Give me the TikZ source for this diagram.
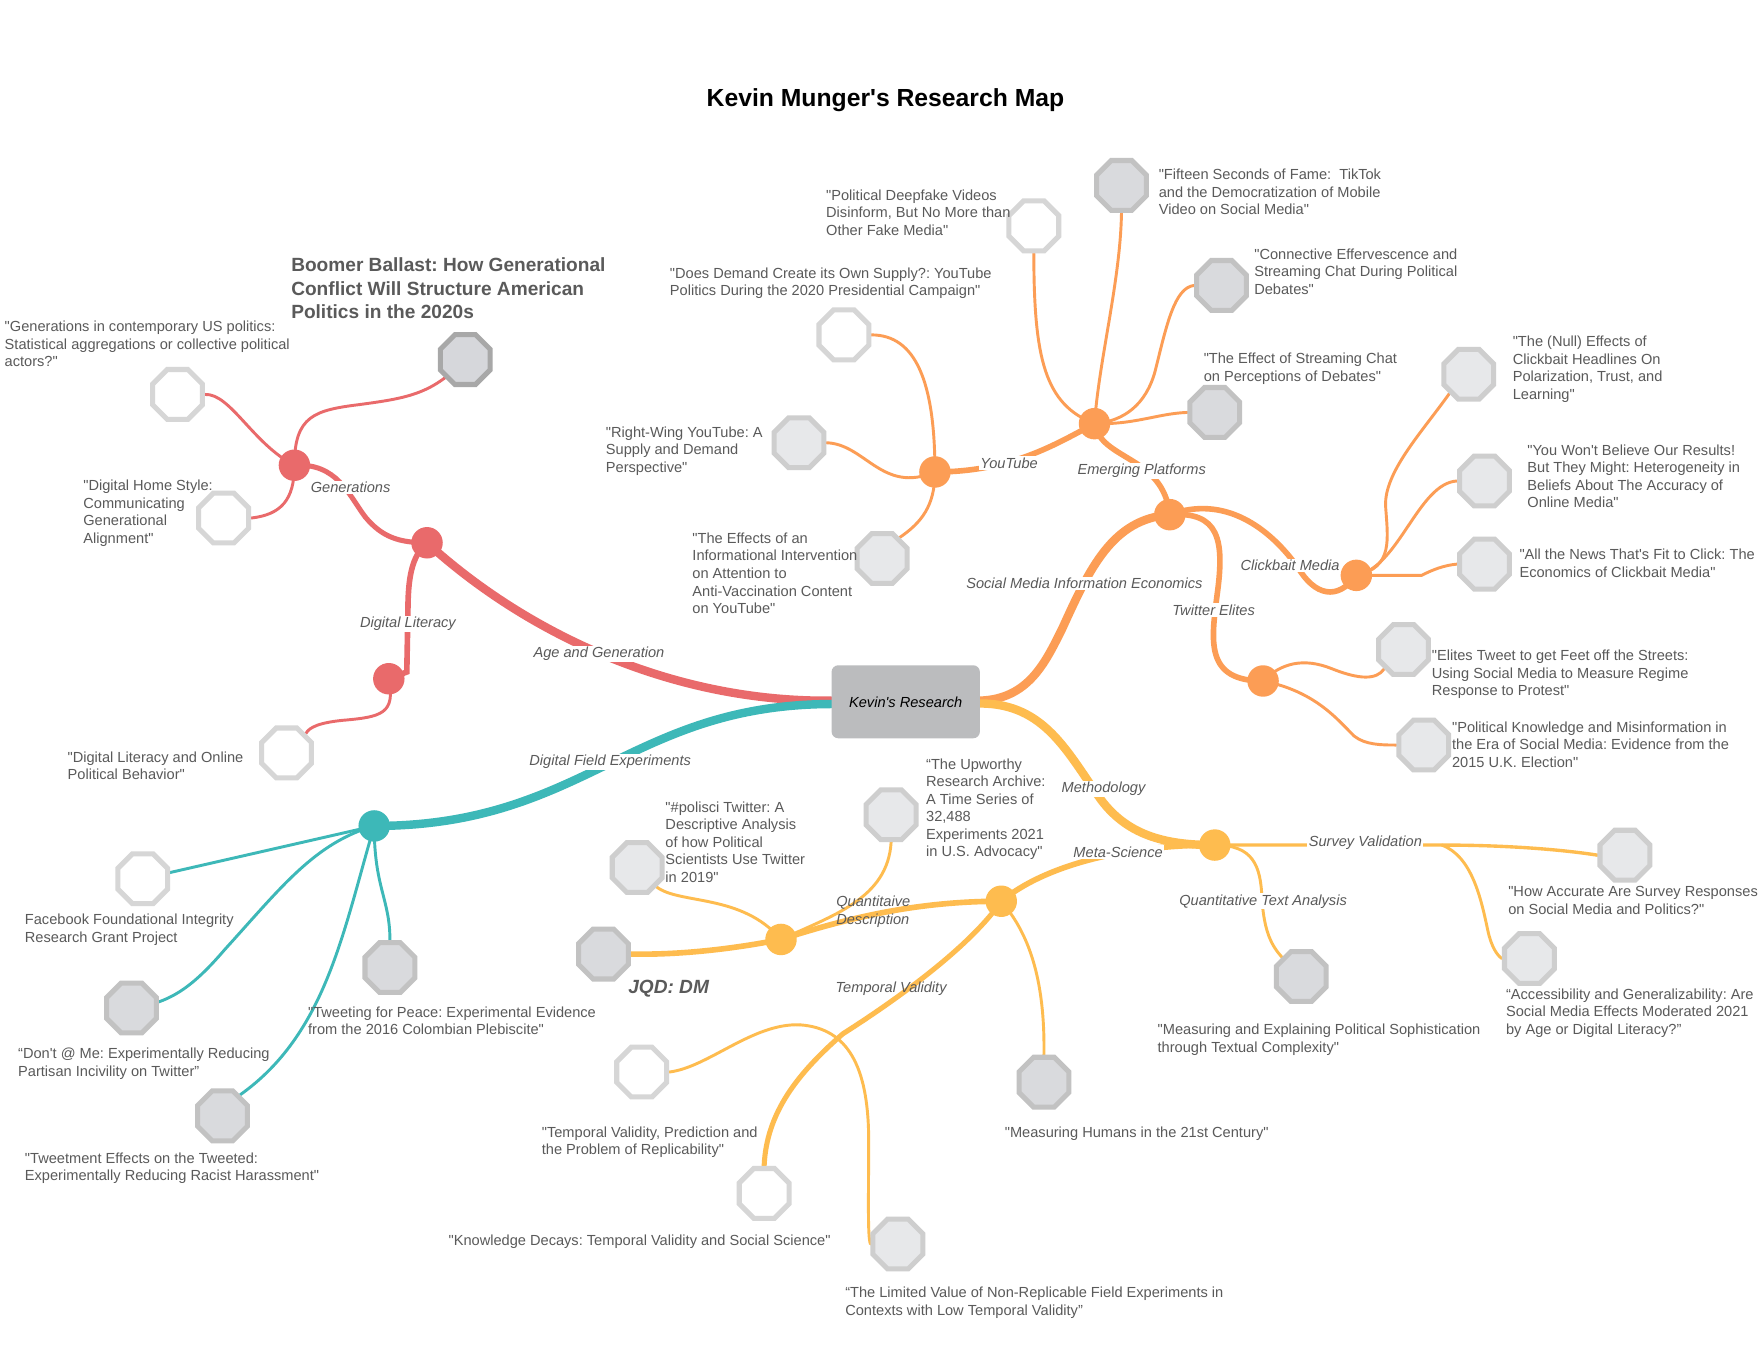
\documentclass[tikz,border=0pt]{standalone}
\usepackage{fontspec}
\setmainfont{Liberation Sans}[Ligatures=TeXOff]
\usetikzlibrary{shapes.geometric}
\pgfdeclarelayer{canvas}
\pgfdeclarelayer{links}
\pgfsetlayers{canvas,links,main}
\definecolor{cred}{HTML}{E96A6B}
\definecolor{cteal}{HTML}{3DB8B8}
\definecolor{corange}{HTML}{FC9D55}
\definecolor{cyellow}{HTML}{FEBC4F}
\definecolor{cgraybox}{HTML}{BBBCBE}
\definecolor{ctext}{HTML}{5A5A5A}
\definecolor{owline}{HTML}{D6D6D6}
\definecolor{olfill}{HTML}{E7E8EA}
\definecolor{olline}{HTML}{CECECE}
\definecolor{omfill}{HTML}{D9DADD}
\definecolor{omline}{HTML}{C2C2C2}
\definecolor{odfill}{HTML}{D6D7DB}
\definecolor{odline}{HTML}{A8A8A8}
\tikzset{
  octbase/.style={regular polygon, regular polygon sides=8, minimum size=48pt, inner sep=0pt, line width=4.5pt},
  octw/.style={octbase, fill=white, draw=owline},
  octl/.style={octbase, fill=olfill, draw=olline},
  octm/.style={octbase, fill=omfill, draw=omline},
  octd/.style={octbase, fill=odfill, draw=odline},
  hub/.style={circle, inner sep=0pt, minimum size=28pt, fill=#1},
  ptext/.style={anchor=north west, inner sep=0pt, align=left, text=ctext, font=\fontsize{13}{15.6}\selectfont},
  blabel/.style={font=\fontsize{13}{15.6}\selectfont\itshape, text=ctext, fill=white, inner sep=1.2pt},
  blabelnf/.style={font=\fontsize{13}{15.6}\selectfont\itshape, text=ctext, inner sep=0pt},
  wmain/.style={line width=7.5pt, line cap=round},
  wsub/.style={line width=5pt, line cap=round},
  wmid/.style={line width=3pt, line cap=round},
  wleaf/.style={line width=2.6pt, line cap=round}
}
\frenchspacing
\begin{document}
\frenchspacing
\begin{tikzpicture}[x=1pt,y=-1pt]
\begin{pgfonlayer}{canvas}
\fill[white] (0,0) rectangle (1568,1211);
\end{pgfonlayer}
\useasboundingbox (0,0) rectangle (1568,1211);

% title and centre
\node[font=\fontsize{22}{26}\selectfont\bfseries] (title) at (788,89) {Kevin Munger's Research Map};
\node[fill=cgraybox, rounded corners=6pt, minimum width=132pt, minimum height=65pt, inner sep=0pt, font=\fontsize{13}{15.6}\selectfont\itshape] (ctr) at (806,624.5) {Kevin's Research};

% hubs
\node[hub=cred] (RA) at (380,483) {};
\node[hub=cred] (RG) at (262,414) {};
\node[hub=cred] (RD) at (346,604) {};
\node[hub=cteal] (T) at (333,735) {};
\node[hub=corange] (O) at (1041,458) {};
\node[hub=corange] (E) at (974,377) {};
\node[hub=corange] (YT) at (832,420) {};
\node[hub=corange] (C) at (1207,512) {};
\node[hub=corange] (TE) at (1124,606) {};
\node[hub=cyellow] (M) at (1081,752) {};
\node[hub=cyellow] (MS) at (891,802) {};
\node[hub=cyellow] (QD) at (695,836) {};

% octagons
\node[octd] (BB) at (414,320) {};
\node[octw] (GS) at (158,351) {};
\node[octw] (HS) at (199,461) {};
\node[octw] (DL) at (255,670) {};
\node[octw] (FB) at (127,782) {};
\node[octm] (DA) at (117,897) {};
\node[octm] (TW) at (198,993) {};
\node[octm] (PE) at (347,861) {};
\node[octw] (DF) at (920,201) {};
\node[octm] (FS) at (998,165) {};
\node[octm] (CE) at (1087,254) {};
\node[octm] (ES) at (1081,367) {};
\node[octw] (DD) at (751,298) {};
\node[octl] (RW) at (711,394) {};
\node[octl] (EI) at (785,497) {};
\node[octl] (NE) at (1307,333) {};
\node[octl] (YW) at (1321,428) {};
\node[octl] (AN) at (1321,502) {};
\node[octl] (EL) at (1249,578) {};
\node[octl] (PK) at (1267,663) {};
\node[octl] (HA) at (1446,761) {};
\node[octl] (AC) at (1361,853) {};
\node[octm] (SO) at (1158,869) {};
\node[octl] (UP) at (793,725) {};
\node[octl] (PO) at (567,772) {};
\node[octm] (JQ) at (537,849) {};
\node[octm] (MH) at (929,963) {};
\node[octw] (TV) at (571,954) {};
\node[octw] (KD) at (680,1062) {};
\node[octl] (LV) at (799,1107) {};

\coordinate (SVJ) at (1283,752);
\coordinate (TVJ) at (712,912);

% branch labels
\node[blabel] (lAG) at (533,582) {Age and Generation};
\node[blabel] (lGen) at (312,434) {Generations};
\node[blabel] (lDLit) at (363,555) {Digital Literacy};
\node[blabel] (lDFE) at (543,678) {Digital Field Experiments};
\node[blabel] (lSMIE) at (965,519) {Social Media Information Economics};
\node[blabel] (lYT) at (898,412) {YouTube};
\node[blabel] (lEP) at (1016,419) {Emerging Platforms};
\node[blabel] (lCB) at (1148,503) {Clickbait Media};
\node[blabel] (lTE) at (1080,543) {Twitter Elites};
\node[blabel] (lMeth) at (982,702) {Methodology};
\node[blabel] (lMS) at (995,758) {Meta-Science};
\node[blabel] (lSV) at (1215,750) {Survey Validation};
\node[blabel] (lQTA) at (1124,802) {Quantitative Text Analysis};
\node[blabelnf, anchor=north west, align=left] (lQD) at (744,797.3) {Quantitaive\\Description};
\node[blabelnf] (lTV) at (793,880) {Temporal Validity};

% paper texts
\node[anchor=north west, inner sep=0pt, align=left, text=ctext, font=\fontsize{17}{20.5}\selectfont\bfseries] (tBB) at (259,229.5) {Boomer Ballast: How Generational\\Conflict Will Structure American\\Politics in the 2020s};
\node[ptext] (tGS) at (4,285.5) {"Generations in contemporary US politics:\\Statistical aggregations or collective political\\actors?"};
\node[ptext] (tHS) at (74,427) {"Digital Home Style:\\Communicating\\Generational\\Alignment"};
\node[ptext] (tDL) at (60,668.5) {"Digital Literacy and Online\\Political Behavior"};
\node[ptext] (tFB) at (22,813.5) {Facebook Foundational Integrity\\Research Grant Project};
\node[ptext] (tDA) at (16,932.5) {“Don't @ Me: Experimentally Reducing\\Partisan Incivility on Twitter”};
\node[ptext] (tTW) at (22,1025.5) {"Tweetment Effects on the Tweeted:\\Experimentally Reducing Racist Harassment"};
\node[ptext] (tPE) at (274,895.5) {"Tweeting for Peace: Experimental Evidence\\from the 2016 Colombian Plebiscite"};
\node[ptext] (tDF) at (735,168.5) {"Political Deepfake Videos\\Disinform, But No More than\\Other Fake Media"};
\node[ptext] (tFS) at (1031,150.5) {"Fifteen Seconds of Fame:~ TikTok\\and the Democratization of Mobile\\Video on Social Media"};
\node[ptext] (tCE) at (1116,221) {"Connective Effervescence and\\Streaming Chat During Political\\Debates"};
\node[ptext] (tES) at (1071,314) {"The Effect of Streaming Chat\\on Perceptions of Debates"};
\node[ptext] (tDD) at (596,238) {"Does Demand Create its Own Supply?: YouTube\\Politics During the 2020 Presidential Campaign"};
\node[ptext] (tRW) at (539,379.3) {"Right-Wing YouTube: A\\Supply and Demand\\Perspective"};
\node[ptext] (tEI) at (616,474) {"The Effects of an\\Informational Intervention\\on Attention to\\Anti-Vaccination Content\\on YouTube"};
\node[ptext] (tNE) at (1346,299) {"The (Null) Effects of\\Clickbait Headlines On\\Polarization, Trust, and\\Learning"};
\node[ptext] (tYW) at (1359,395.5) {"You Won't Believe Our Results!\\But They Might: Heterogeneity in\\Beliefs About The Accuracy of\\Online Media"};
\node[ptext] (tAN) at (1352,488.5) {"All the News That's Fit to Click: The\\Economics of Clickbait Media"};
\node[ptext] (tEL) at (1274,578.5) {"Elites Tweet to get Feet off the Streets:\\Using Social Media to Measure Regime\\Response to Protest"};
\node[ptext] (tPK) at (1292,642) {"Political Knowledge and Misinformation in\\the Era of Social Media: Evidence from the\\2015 U.K. Election"};
\node[ptext] (tHA) at (1342,788.5) {"How Accurate Are Survey Responses\\on Social Media and Politics?"};
\node[ptext] (tAC) at (1340,879.5) {“Accessibility and Generalizability: Are\\Social Media Effects Moderated 2021\\by Age or Digital Literacy?”};
\node[ptext] (tSO) at (1030,911) {"Measuring and Explaining Political Sophistication\\through Textual Complexity"};
\node[ptext] (tUP) at (824,674.7) {“The Upworthy\\Research Archive:\\A Time Series of\\32,488\\Experiments 2021\\in U.S. Advocacy"};
\node[ptext] (tPO) at (592,713) {"\#polisci Twitter: A\\Descriptive Analysis\\of how Political\\Scientists Use Twitter\\in 2019"};
\node[ptext] (tMH) at (894,1002.5) {"Measuring Humans in the 21st Century"};
\node[ptext] (tTV) at (482,1002.5) {"Temporal Validity, Prediction and\\the Problem of Replicability"};
\node[ptext] (tKD) at (399,1098.5) {"Knowledge Decays: Temporal Validity and Social Science"};
\node[ptext] (tLV) at (752,1145) {“The Limited Value of Non-Replicable Field Experiments in\\Contexts with Low Temporal Validity”};
\node[font=\fontsize{17}{20}\selectfont\bfseries\itshape, text=ctext, inner sep=0pt] (tJQ) at (595,880) {JQD: DM};

% connectors
\begin{pgfonlayer}{links}
% main branches
\draw[cred, wmain] ([yshift=1pt]ctr.west) .. controls (600,625) and (470,565) .. (RA.center);
\draw[cteal, wmain] ([yshift=-2pt]ctr.west) .. controls (560,627) and (520,735) .. (T.center);
\draw[corange, wmain] ([yshift=1pt]ctr.east) .. controls (915,622) and (930,590) .. (945,560) .. controls (970,505) and (990,462) .. (O.center);
\draw[cyellow, wmain] ([yshift=-1.5pt]ctr.east) .. controls (930,626) and (950,670) .. (980,712) .. controls (1005,745) and (1040,752) .. (M.center);
% red
\draw[cred, line width=4.5pt, line cap=round] (RG.center) .. controls (300,412) and (310,440) .. (325,460) .. controls (340,478) and (355,483) .. (RA.center);
\draw[cred, wsub] (RA.center) .. controls (366,495) and (363,515) .. (363,545) -- (362,598) -- (RD.center);
\draw[cred, wleaf] (RG.center) .. controls (262,370) and (280,365) .. (320,360) .. controls (365,354) and (385,350) .. (BB.center);
\draw[cred, wleaf] (GS.east) .. controls (205,350) and (225,395) .. (RG.center);
\draw[cred, wleaf] (RG.center) .. controls (262,445) and (250,458) .. (HS.east);
\draw[cred, wleaf] (RD.center) .. controls (352,635) and (340,638) .. (305,641) .. controls (285,643) and (275,647) .. (DL.45);
% teal
\draw[cteal, wleaf] (T.center) -- (FB.center);
\draw[cteal, wleaf] (T.center) .. controls (280,750) and (250,790) .. (200,845) .. controls (170,880) and (150,893) .. (DA.center);
\draw[cteal, wleaf] (T.center) .. controls (305,830) and (290,920) .. (TW.50);
\draw[cteal, wleaf] (T.center) .. controls (333,790) and (347,800) .. (PE.north);
% orange
\draw[corange, wsub] (E.center) .. controls (980,410) and (1035,405) .. (O.center);
\draw[corange, wsub] (E.center) .. controls (940,395) and (900,420) .. (YT.center);
\draw[corange, wleaf] (DF.south) .. controls (920,320) and (930,360) .. (E.center);
\draw[corange, wleaf] (FS.south) .. controls (997,250) and (978,320) .. (E.center);
\draw[corange, wleaf] (CE.west) .. controls (1045,256) and (1038,290) .. (1028,330) .. controls (1020,360) and (1000,375) .. (E.center);
\draw[corange, wleaf] (E.center) .. controls (1010,378) and (1030,368) .. (ES.west);
\draw[corange, wleaf] (DD.east) .. controls (815,298) and (832,340) .. (YT.center);
\draw[corange, wleaf] (RW.east) .. controls (770,395) and (785,440) .. (YT.center);
\draw[corange, wleaf] (YT.center) .. controls (832,450) and (820,465) .. (EI.50);
\draw[corange, wsub] (O.center) .. controls (1090,440) and (1130,470) .. (1155,505) .. controls (1170,530) and (1190,535) .. (C.center);
\draw[corange, wsub] (O.center) .. controls (1085,455) and (1090,480) .. (1083,530) .. controls (1078,570) and (1072,606) .. (TE.center);
\draw[corange, wleaf] (C.center) .. controls (1240,505) and (1235,480) .. (1233,450) .. controls (1232,420) and (1265,385) .. (NE.225);
\draw[corange, wleaf] (C.center) .. controls (1245,505) and (1262,430) .. (YW.west);
\draw[corange, wleaf] (C.center) -- (1265,512) .. controls (1275,507) and (1285,503) .. (AN.west);
\draw[corange, wleaf] (TE.center) .. controls (1140,590) and (1160,585) .. (1185,595) .. controls (1210,605) and (1225,605) .. (EL.225);
\draw[corange, wleaf] (TE.center) .. controls (1170,615) and (1190,640) .. (1205,655) .. controls (1215,663) and (1230,663) .. (PK.west);
% yellow
\draw[cyellow, wsub] (M.center) .. controls (1000,752) and (930,770) .. (MS.center);
\draw[cyellow, wmid] (M.center) -- (SVJ) .. controls (1340,752) and (1390,756) .. (HA.west);
\draw[cyellow, wleaf] (SVJ) .. controls (1310,762) and (1318,800) .. (1324,828) .. controls (1327,842) and (1332,850) .. (AC.west);
\draw[cyellow, wleaf] (M.center) .. controls (1115,752) and (1122,770) .. (1123,800) .. controls (1125,830) and (1132,842) .. (SO.135);
\draw[cyellow, wsub] (QD.center) .. controls (760,815) and (820,802) .. (MS.center);
\draw[cyellow, wsub] (JQ.east) .. controls (610,850) and (660,843) .. (QD.center);
\draw[cyellow, wleaf] (PO.315) .. controls (605,805) and (660,795) .. (QD.center);
\draw[cyellow, wleaf] (UP.south) .. controls (790,800) and (740,815) .. (QD.center);
\draw[cyellow, line width=4.5pt, line cap=round] (MS.center) .. controls (865,840) and (805,885) .. (750,920) .. controls (710,955) and (682,990) .. (KD.north);
\draw[cyellow, wleaf] (MS.center) .. controls (915,830) and (930,870) .. (MH.north);
\draw[cyellow, wleaf] (TV.east) .. controls (630,950) and (670,910) .. (TVJ);
\draw[cyellow, wleaf] (TVJ) .. controls (755,915) and (772,950) .. (773,1010) .. controls (773,1070) and (772,1100) .. (LV.west);
\end{pgfonlayer}
\end{tikzpicture}
\end{document}
